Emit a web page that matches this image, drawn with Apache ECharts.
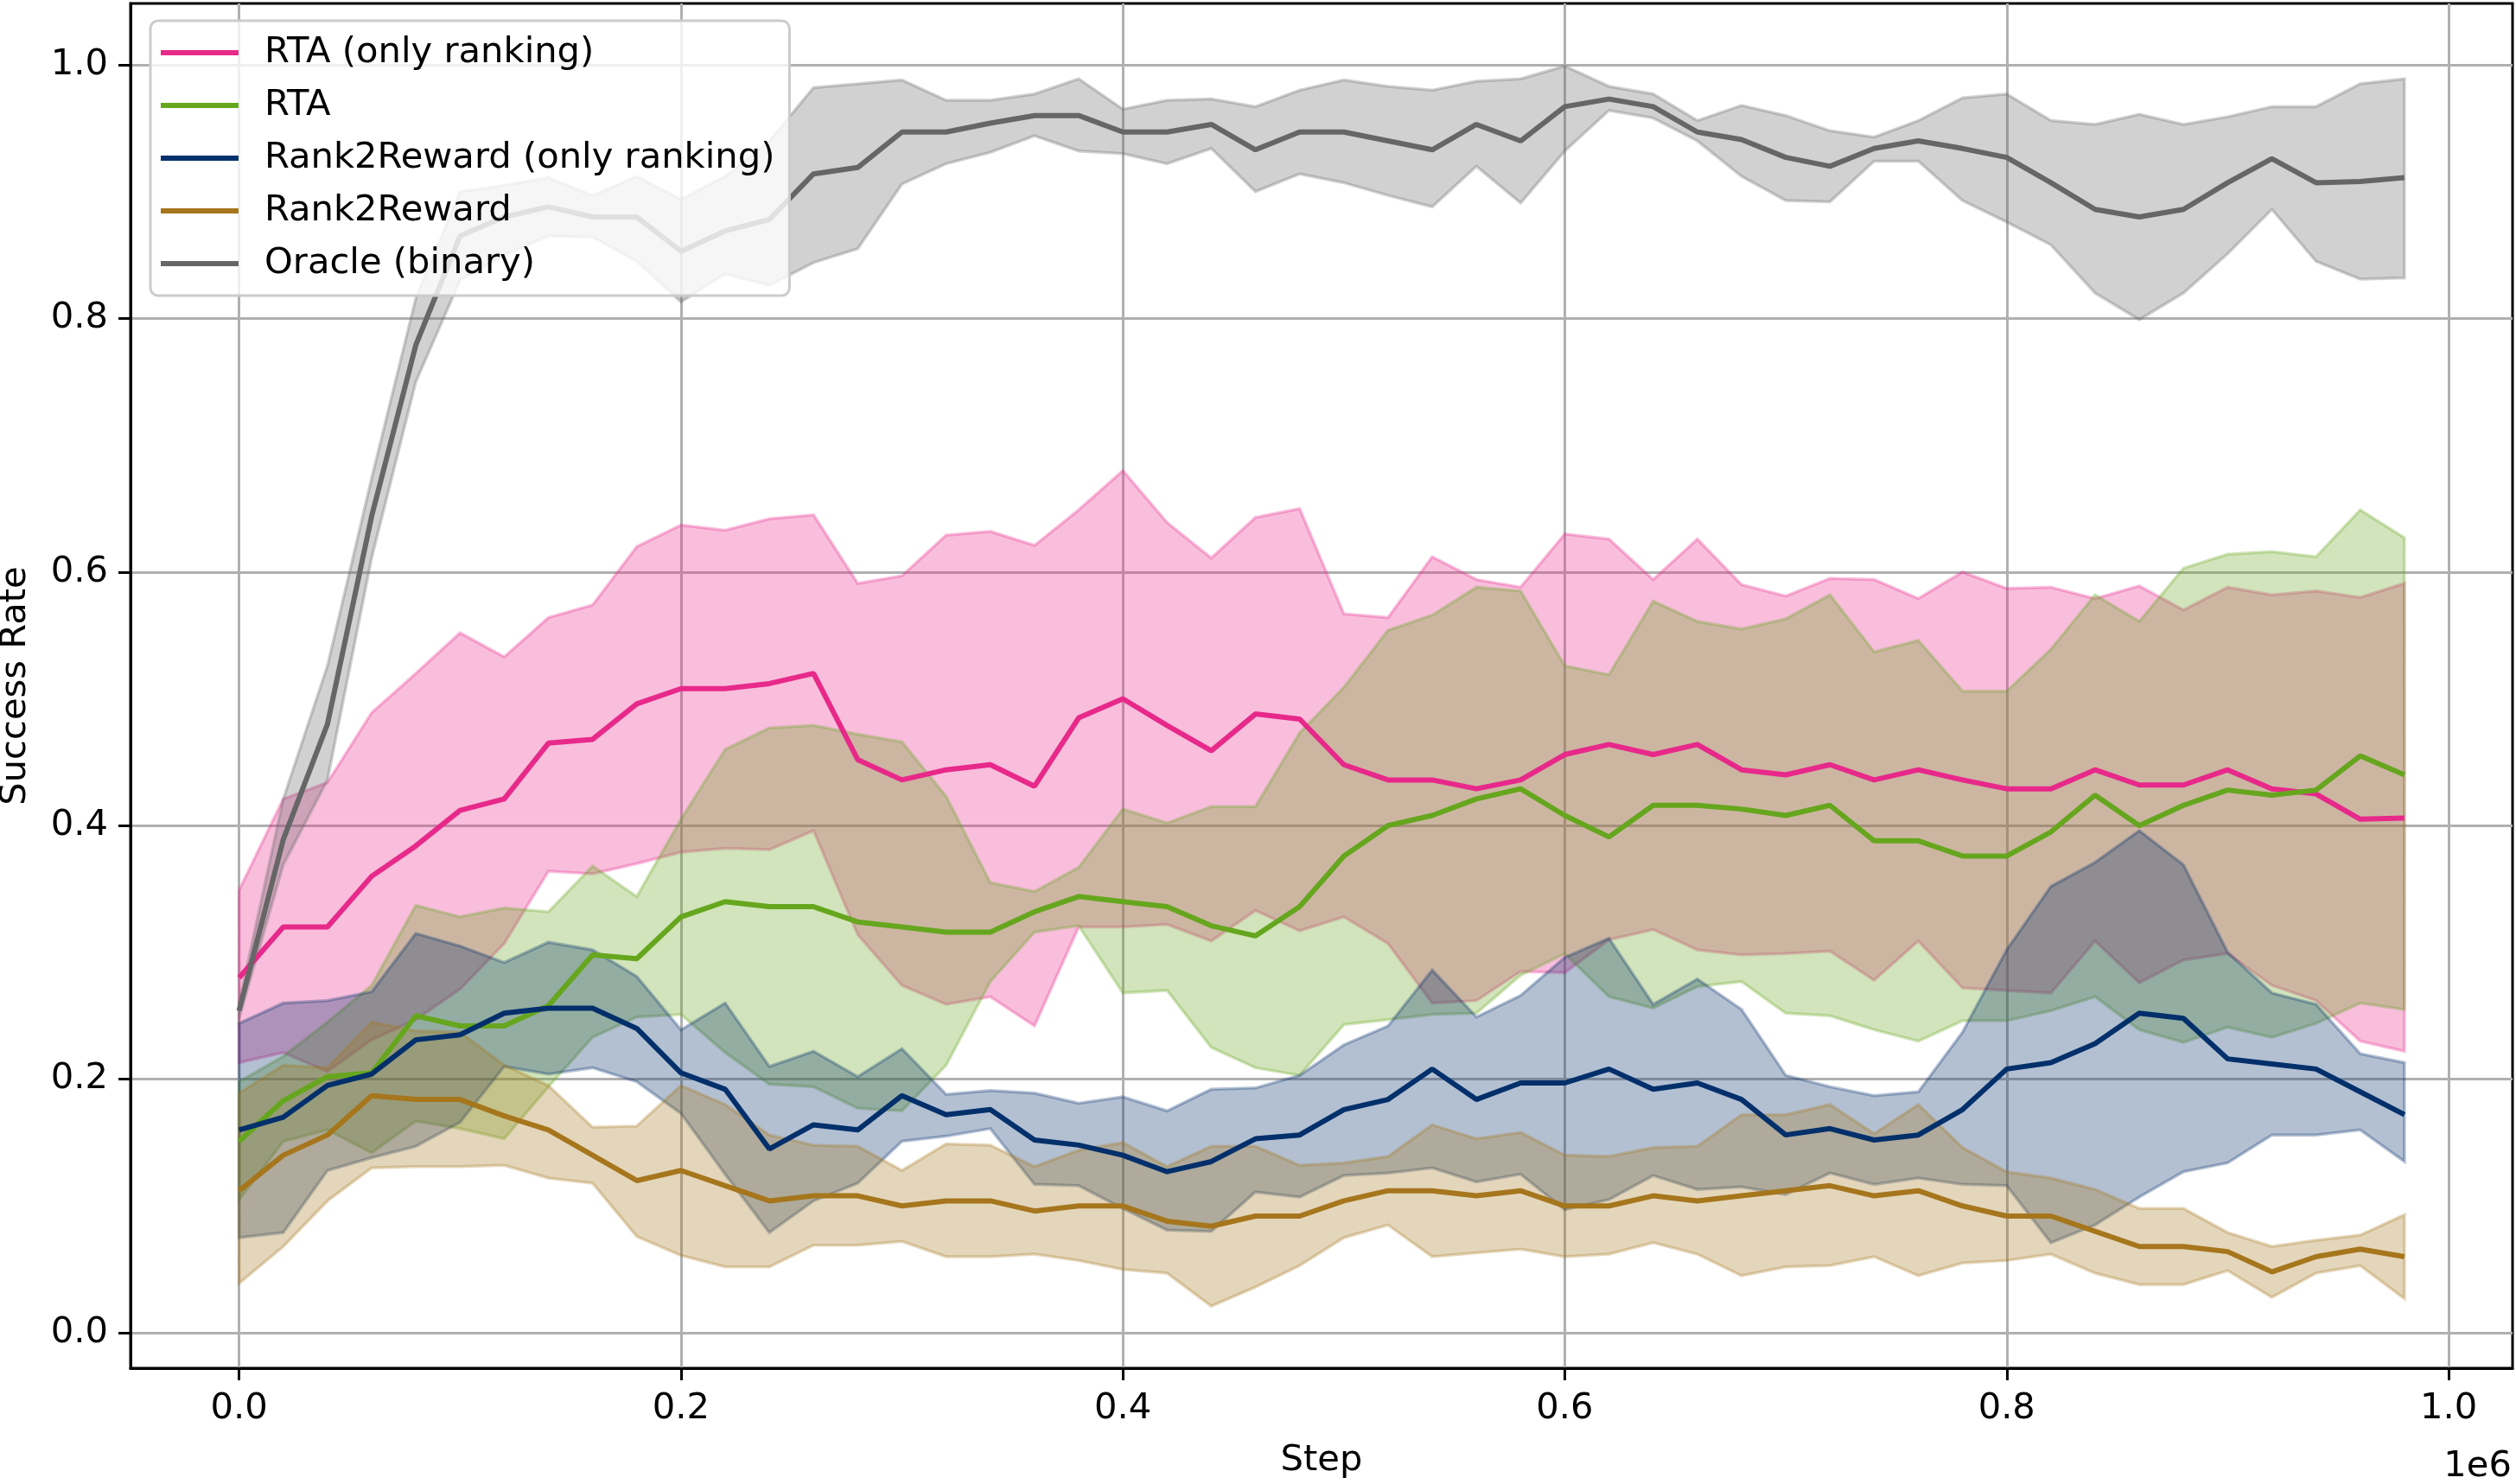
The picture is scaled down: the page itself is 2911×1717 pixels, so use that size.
<!DOCTYPE html>
<html>
<head>
<meta charset="utf-8">
<script src="https://cdn.jsdelivr.net/npm/echarts@6/dist/echarts.min.js"></script>
<style>
  html, body { margin: 0; padding: 0; background: #fff; }
  #chart { width: 2911px; height: 1717px; }
</style>
</head>
<body>
<div id="chart"></div>
<script>
// training steps
const steps = [0, 20000, 40000, 60000, 80000, 100000, 120000, 140000, 160000, 180000,
  200000, 220000, 240000, 260000, 280000, 300000, 320000, 340000, 360000, 380000,
  400000, 420000, 440000, 460000, 480000, 500000, 520000, 540000, 560000, 580000,
  600000, 620000, 640000, 660000, 680000, 700000, 720000, 740000, 760000, 780000,
  800000, 820000, 840000, 860000, 880000, 900000, 920000, 940000, 960000, 980000];

const xTicks = [0, 200000, 400000, 600000, 800000, 1000000];
const yTicks = [0, 0.2, 0.4, 0.6, 0.8, 1.0];

// RTA (only ranking)
const rtaRankMean = [0.280,0.320,0.320,0.360,0.384,0.412,0.421,0.465,0.468,0.496, 0.508,0.508,0.512,0.520,0.452,0.436,0.444,0.448,0.431,0.485, 0.500,0.479,0.459,0.488,0.484,0.448,0.436,0.436,0.429,0.436, 0.456,0.464,0.456,0.464,0.444,0.440,0.448,0.436,0.444,0.436, 0.429,0.429,0.444,0.432,0.432,0.444,0.429,0.425,0.405,0.406];
const rtaRankHigh = [0.349,0.421,0.434,0.489,0.520,0.552,0.533,0.564,0.574,0.620, 0.637,0.633,0.642,0.645,0.591,0.597,0.629,0.632,0.621,0.649, 0.680,0.639,0.611,0.643,0.650,0.567,0.564,0.612,0.594,0.588, 0.630,0.626,0.594,0.626,0.590,0.581,0.595,0.594,0.579,0.600, 0.587,0.588,0.579,0.589,0.570,0.588,0.582,0.585,0.580,0.591];
const rtaRankLow = [0.213,0.221,0.206,0.231,0.247,0.271,0.307,0.364,0.362,0.370, 0.379,0.382,0.381,0.396,0.314,0.274,0.259,0.265,0.242,0.320, 0.320,0.322,0.309,0.333,0.317,0.328,0.307,0.260,0.262,0.285, 0.284,0.310,0.318,0.302,0.298,0.299,0.301,0.278,0.309,0.272, 0.270,0.268,0.309,0.276,0.294,0.299,0.274,0.262,0.230,0.222];

// RTA
const rtaMean = [0.151,0.183,0.202,0.205,0.250,0.242,0.242,0.258,0.298,0.295, 0.328,0.340,0.336,0.336,0.324,0.320,0.316,0.316,0.332,0.344, 0.340,0.336,0.321,0.313,0.336,0.376,0.400,0.408,0.421,0.429, 0.408,0.391,0.416,0.416,0.413,0.408,0.416,0.388,0.388,0.376, 0.376,0.395,0.424,0.400,0.416,0.428,0.424,0.428,0.455,0.440];
const rtaHigh = [0.198,0.218,0.245,0.274,0.337,0.328,0.335,0.332,0.368,0.344, 0.405,0.460,0.477,0.479,0.472,0.466,0.423,0.355,0.348,0.367, 0.413,0.402,0.415,0.415,0.473,0.509,0.554,0.566,0.588,0.585, 0.526,0.519,0.577,0.561,0.555,0.563,0.582,0.537,0.546,0.506, 0.506,0.539,0.582,0.561,0.603,0.614,0.616,0.612,0.649,0.627];
const rtaLow = [0.105,0.151,0.160,0.142,0.167,0.161,0.153,0.194,0.233,0.249, 0.251,0.221,0.196,0.194,0.177,0.175,0.211,0.277,0.316,0.321, 0.268,0.270,0.225,0.209,0.203,0.243,0.247,0.251,0.252,0.282, 0.299,0.265,0.256,0.273,0.277,0.252,0.250,0.239,0.230,0.246, 0.246,0.254,0.265,0.239,0.229,0.241,0.233,0.244,0.260,0.255];

// Rank2Reward (only ranking)
const r2rRankMean = [0.160,0.170,0.195,0.204,0.231,0.235,0.252,0.256,0.256,0.240, 0.205,0.192,0.145,0.164,0.160,0.187,0.172,0.176,0.152,0.148, 0.140,0.127,0.135,0.153,0.156,0.176,0.184,0.208,0.184,0.197, 0.197,0.208,0.192,0.197,0.184,0.156,0.161,0.152,0.156,0.176, 0.208,0.213,0.228,0.252,0.248,0.216,0.212,0.208,0.190,0.172];
const r2rRankHigh = [0.244,0.260,0.262,0.269,0.315,0.305,0.292,0.308,0.302,0.281, 0.239,0.260,0.210,0.222,0.202,0.224,0.188,0.191,0.189,0.181, 0.186,0.175,0.192,0.193,0.203,0.227,0.242,0.286,0.249,0.266, 0.296,0.311,0.259,0.279,0.255,0.203,0.194,0.187,0.190,0.237, 0.302,0.352,0.371,0.396,0.369,0.300,0.268,0.259,0.220,0.213];
const r2rRankLow = [0.075,0.079,0.128,0.138,0.147,0.166,0.210,0.204,0.209,0.198, 0.173,0.125,0.079,0.104,0.118,0.151,0.155,0.161,0.117,0.116, 0.098,0.081,0.080,0.111,0.107,0.124,0.126,0.130,0.119,0.125, 0.097,0.105,0.124,0.113,0.115,0.109,0.126,0.117,0.122,0.117, 0.116,0.071,0.085,0.107,0.127,0.134,0.156,0.156,0.160,0.135];

// Rank2Reward
const r2rMean = [0.112,0.140,0.156,0.187,0.184,0.184,0.171,0.160,0.140,0.120, 0.128,0.116,0.104,0.108,0.108,0.100,0.104,0.104,0.096,0.100, 0.100,0.088,0.084,0.092,0.092,0.104,0.112,0.112,0.108,0.112, 0.100,0.100,0.108,0.104,0.108,0.112,0.116,0.108,0.112,0.100, 0.092,0.092,0.080,0.068,0.068,0.064,0.048,0.060,0.066,0.060];
const r2rHigh = [0.189,0.211,0.209,0.245,0.238,0.237,0.211,0.195,0.162,0.163, 0.195,0.180,0.156,0.148,0.147,0.128,0.149,0.148,0.131,0.144, 0.150,0.131,0.147,0.147,0.132,0.134,0.139,0.164,0.153,0.158, 0.140,0.139,0.146,0.147,0.172,0.172,0.180,0.157,0.180,0.146, 0.127,0.122,0.113,0.098,0.098,0.079,0.068,0.073,0.077,0.093];
const r2rLow = [0.039,0.068,0.104,0.130,0.131,0.131,0.132,0.122,0.118,0.076, 0.061,0.052,0.052,0.069,0.069,0.072,0.060,0.060,0.062,0.057, 0.050,0.047,0.021,0.036,0.053,0.075,0.085,0.060,0.063,0.066, 0.060,0.062,0.071,0.062,0.045,0.052,0.053,0.060,0.045,0.055, 0.057,0.062,0.047,0.038,0.038,0.049,0.028,0.047,0.053,0.027];

// Oracle (binary)
const oracleMean = [0.254,0.389,0.480,0.644,0.779,0.865,0.880,0.888,0.880,0.880, 0.853,0.869,0.878,0.914,0.919,0.947,0.947,0.954,0.960,0.960, 0.947,0.947,0.953,0.933,0.947,0.947,0.940,0.933,0.953,0.940, 0.967,0.973,0.967,0.947,0.941,0.927,0.920,0.934,0.940,0.934, 0.927,0.907,0.886,0.880,0.886,0.907,0.926,0.907,0.908,0.911];
const oracleHigh = [0.260,0.421,0.526,0.674,0.816,0.900,0.905,0.911,0.897,0.912, 0.894,0.912,0.940,0.982,0.985,0.988,0.972,0.972,0.977,0.989, 0.965,0.972,0.973,0.967,0.980,0.988,0.983,0.980,0.987,0.989, 0.999,0.983,0.977,0.956,0.968,0.960,0.948,0.943,0.956,0.974, 0.977,0.956,0.953,0.961,0.953,0.959,0.967,0.967,0.985,0.989];
const oracleLow = [0.248,0.369,0.436,0.611,0.750,0.830,0.850,0.865,0.864,0.845, 0.813,0.835,0.826,0.844,0.855,0.906,0.922,0.931,0.944,0.932, 0.930,0.922,0.934,0.900,0.914,0.907,0.897,0.888,0.920,0.891, 0.932,0.964,0.958,0.940,0.912,0.893,0.892,0.924,0.924,0.893, 0.876,0.858,0.820,0.799,0.820,0.851,0.886,0.845,0.831,0.832];

const methods = [
  { name: 'RTA (only ranking)', color: '#e7298a', rgb: '231,41,138', mean: rtaRankMean, hi: rtaRankHigh, lo: rtaRankLow },
  { name: 'RTA', color: '#66a61e', rgb: '102,166,30', mean: rtaMean, hi: rtaHigh, lo: rtaLow },
  { name: 'Rank2Reward (only ranking)', color: '#03306b', rgb: '3,48,107', mean: r2rRankMean, hi: r2rRankHigh, lo: r2rRankLow },
  { name: 'Rank2Reward', color: '#a6761d', rgb: '166,118,29', mean: r2rMean, hi: r2rHigh, lo: r2rLow },
  { name: 'Oracle (binary)', color: '#666666', rgb: '102,102,102', mean: oracleMean, hi: oracleHigh, lo: oracleLow }
];

const FONT = 'DejaVu Sans';
const FS = 41.67; // 10pt at 300 dpi

const series = [];
// shaded min/max bands, one polygon each, placed via the axes' coord()
methods.forEach(m => {
  const faint = `rgba(${m.rgb},0.3)`;
  series.push({
    name: m.name + ' band',
    type: 'custom',
    silent: true,
    z: 1,
    data: [[steps[0], m.lo[0]]],
    renderItem: (params, api) => {
      const pts = [];
      steps.forEach((s, i) => pts.push(api.coord([s, m.hi[i]])));
      for (let i = steps.length - 1; i >= 0; i--) pts.push(api.coord([steps[i], m.lo[i]]));
      return {
        type: 'polygon',
        shape: { points: pts },
        style: { fill: faint, stroke: faint, lineWidth: 3.5, lineJoin: 'miter' }
      };
    }
  });
});
methods.forEach(m => {
  series.push({
    name: m.name,
    type: 'line',
    color: m.color,
    data: steps.map((s, i) => [s, m.mean[i]]),
    symbol: 'none',
    z: 3,
    itemStyle: { color: m.color },
    lineStyle: { color: m.color, width: 6 }
  });
});

const chart = echarts.init(document.getElementById('chart'), null, { renderer: 'canvas' });
chart.setOption({
  animation: false,
  backgroundColor: '#ffffff',
  grid: {
    left: 151, right: 4, top: 4, bottom: 134,
    containLabel: false,
    outerBoundsMode: 'none',
    show: true,
    borderColor: '#000',
    borderWidth: 3,
    backgroundColor: 'transparent'
  },
  xAxis: {
    type: 'value',
    min: -49130,
    max: 1028930,
    name: 'Step',
    nameLocation: 'middle',
    nameGap: 86,
    nameTextStyle: { fontFamily: FONT, fontSize: FS, color: '#000' },
    axisLine: { show: true, onZero: false, lineStyle: { color: '#000', width: 3 } },
    axisTick: { show: true, customValues: xTicks, length: 14, lineStyle: { color: '#000', width: 3 } },
    axisLabel: {
      customValues: xTicks,
      margin: 26,
      fontFamily: FONT, fontSize: FS, color: '#000',
      formatter: v => (v / 1e6).toFixed(1)
    },
    splitLine: { show: true, lineStyle: { color: '#b0b0b0', width: 3 } }
  },
  yAxis: {
    type: 'value',
    min: -0.02795,
    max: 1.0484,
    name: 'Success Rate',
    nameLocation: 'middle',
    nameGap: 112,
    nameRotate: 90,
    nameTextStyle: { fontFamily: FONT, fontSize: FS, color: '#000' },
    axisLine: { show: true, onZero: false, lineStyle: { color: '#000', width: 3 } },
    axisTick: { show: true, customValues: yTicks, length: 14, lineStyle: { color: '#000', width: 3 } },
    axisLabel: {
      customValues: yTicks,
      margin: 26,
      fontFamily: FONT, fontSize: FS, color: '#000',
      formatter: v => v.toFixed(1)
    },
    splitLine: { show: true, lineStyle: { color: '#b0b0b0', width: 3 } }
  },
  legend: {
    data: methods.map(m => m.name),
    orient: 'vertical',
    left: 174,
    top: 24,
    padding: [15, 17, 15, 12],
    itemGap: 17,
    itemWidth: 90,
    itemHeight: 6,
    icon: 'rect',
    backgroundColor: 'rgba(255,255,255,0.8)',
    borderColor: '#cccccc',
    borderWidth: 3,
    borderRadius: 9,
    selectedMode: false,
    textStyle: { fontFamily: FONT, fontSize: FS, color: '#000', lineHeight: 44, padding: [0, 0, 0, 25] }
  },
  graphic: [{
    type: 'text',
    right: 5,
    top: 1676,
    style: { text: '1e6', fontFamily: FONT, fontSize: FS, fill: '#000' }
  }],
  series: series
});
</script>
</body>
</html>
